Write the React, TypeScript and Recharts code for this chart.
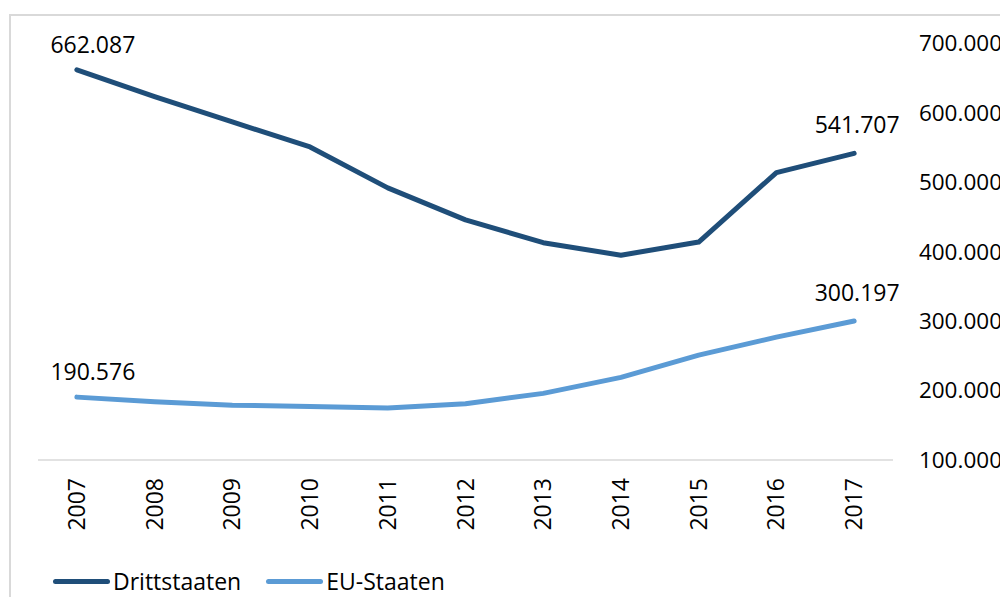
import React from "react";
import { CartesianGrid, Legend, Line, LineChart, XAxis, YAxis } from "recharts";

const years = ["2007", "2008", "2009", "2010", "2011", "2012", "2013", "2014", "2015", "2016", "2017"];
const drittstaaten = [662087, 623500, 587000, 551000, 492000, 446000, 413000, 395000, 414000, 514000, 541707];
const euStaaten = [190576, 184000, 179000, 177000, 175000, 181000, 196000, 219000, 251000, 277000, 300197];
const yTicks = [100000, 200000, 300000, 400000, 500000, 600000, 700000];

const data = years.map((year, i) => ({
  year,
  drittstaaten: drittstaaten[i],
  eu: euStaaten[i],
}));

const FONT = "'Open Sans', 'Noto Sans', sans-serif";
const DARK = "#1f4e79";
const LIGHT = "#5b9bd5";

const fmt = (v: number) => String(v).replace(/\B(?=(\d{3})+(?!\d))/g, ".");

function YTick(props: any) {
  const { y, payload } = props;
  // right-aligned so the labels end where the reference's do
  return (
    <text x={994} y={y} dy="0.35em" textAnchor="end" fontFamily={FONT} fontSize={22.5} fill="#000">
      {fmt(payload.value)}
    </text>
  );
}

function XTick(props: any) {
  const { x, y, payload } = props;
  return (
    <g transform={`translate(${x},${y})`}>
      <text x={-18} y={0} dy="0.35em" transform="rotate(-90)" textAnchor="end" fontFamily={FONT} fontSize={23} fill="#000">
        {payload.value}
      </text>
    </g>
  );
}

function endLabel(props: any) {
  const { x, y, index, value } = props;
  const last = years.length - 1;
  if (index !== 0 && index !== last) return null;
  const dx = index === 0 ? 16 : 3;
  const dy = index === 0 ? -25 : -28;
  return (
    <text x={x + dx} y={y + dy} dy="0.35em" textAnchor="middle" fontFamily={FONT} fontSize={23} fill="#000">
      {fmt(value)}
    </text>
  );
}

const legendItems = [
  { name: "Drittstaaten", color: DARK },
  { name: "EU-Staaten", color: LIGHT },
];

function LegendContent() {
  return (
    <div style={{ display: "flex", alignItems: "center", fontFamily: FONT, fontSize: 23, color: "#000" }}>
      {legendItems.map((it) => (
        <div key={it.name} style={{ display: "flex", alignItems: "center", marginRight: 25 }}>
          <span style={{ display: "inline-block", width: 57, height: 5, borderRadius: 3, background: it.color, marginRight: 3 }} />
          <span>{it.name}</span>
        </div>
      ))}
    </div>
  );
}

export default function App() {
  return (
    <div style={{ position: "relative", width: 992, height: 589, background: "#fff" }}>
      <div style={{ position: "absolute", left: 0, top: 0, width: 1000, height: 589, overflow: "hidden" }}>
        <div
          style={{
            position: "absolute",
            left: 1,
            top: 6,
            width: 1200,
            height: 800,
            border: "2px solid #d9d9d9",
            boxSizing: "border-box",
          }}
        />
      </div>
      <div style={{ position: "absolute", left: 0, top: 0 }}>
        <LineChart
          width={1000}
          height={589}
          data={data}
          margin={{ top: 35.5, left: 30, right: 15, bottom: 77 }}
          style={{ overflow: "visible" }}
        >
          <CartesianGrid horizontal={false} vertical={false} />
          <XAxis
            dataKey="year"
            interval={0}
            height={60}
            padding={{ left: 38.86, right: 38.86 }}
            axisLine={{ stroke: "#d9d9d9", strokeWidth: 1.5 }}
            tickLine={false}
            tickSize={0}
            tickMargin={0}
            tick={<XTick />}
          />
          <YAxis
            orientation="right"
            width={100}
            domain={[100000, 700000]}
            ticks={yTicks}
            interval={0}
            axisLine={false}
            tickLine={false}
            tickSize={0}
            tickMargin={0}
            tick={<YTick />}
          />
          <Legend
            layout="horizontal"
            verticalAlign="middle"
            align="center"
            wrapperStyle={{ left: 45, top: 557, width: 500 }}
            content={<LegendContent />}
          />
          <Line
            type="linear"
            dataKey="drittstaaten"
            name="Drittstaaten"
            stroke={DARK}
            strokeWidth={5}
            strokeLinecap="round"
            strokeLinejoin="round"
            dot={false}
            activeDot={false}
            isAnimationActive={false}
            label={endLabel}
          />
          <Line
            type="linear"
            dataKey="eu"
            name="EU-Staaten"
            stroke={LIGHT}
            strokeWidth={5}
            strokeLinecap="round"
            strokeLinejoin="round"
            dot={false}
            activeDot={false}
            isAnimationActive={false}
            label={endLabel}
          />
        </LineChart>
      </div>
    </div>
  );
}
